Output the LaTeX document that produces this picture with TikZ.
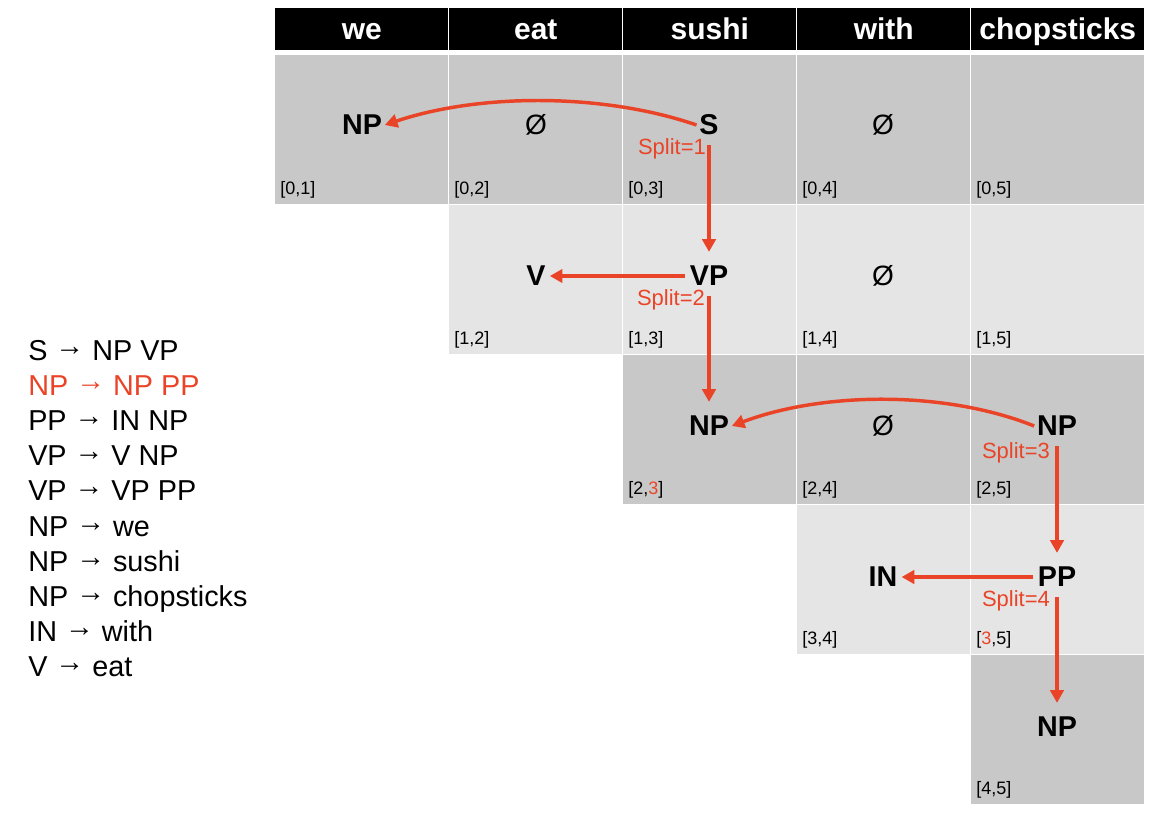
\documentclass[tikz,border=0pt]{standalone}
\usepackage{fontspec}
\setmainfont{Liberation Sans}
\usetikzlibrary{arrows.meta}
\definecolor{splitred}{RGB}{234,68,40}
\definecolor{celldark}{RGB}{200,200,200}
\definecolor{celllight}{RGB}{229,229,229}
% rule arrow, lifted to the middle of the capitals
\newcommand\ruleto{\raisebox{.17em}{\bfseries →}}
\tikzset{
  hdr/.style={fill=black, text=white, font=\bfseries\fontsize{22.5}{27}\selectfont,
    minimum width=129.75pt, minimum height=31.5pt, inner sep=0pt,
    text height=17pt, text depth=2pt, anchor=north west},
  cellbox/.style={minimum width=129.75pt, minimum height=111.75pt, inner sep=0pt,
    anchor=north west},
  sym/.style={font=\bfseries\fontsize{21.5}{26}\selectfont, inner sep=2pt},
  emptyset/.style={font=\fontsize{21}{26}\selectfont, inner sep=2pt},
  idx/.style={font=\fontsize{13.5}{16}\selectfont, inner sep=0pt, anchor=base west},
  splitlbl/.style={font=\fontsize{16.5}{19}\selectfont, text=splitred, inner sep=0pt},
  rule/.style={font=\fontsize{21.6}{26}\selectfont, inner sep=0pt, anchor=base west},
  back/.style={draw=splitred, line width=2.6pt, -{Triangle[length=9.5pt,width=10pt]}},
  down/.style={back, shorten <=5.5pt, shorten >=8.5pt},
  side/.style={back, shorten <=1.5pt, shorten >=1pt}
}
\begin{document}
\begin{tikzpicture}[x=0.75pt, y=-0.75pt]
\useasboundingbox (0,0) rectangle (1164,822);

% column headers
\foreach \w [count=\i from 0] in {we,eat,sushi,with,chopsticks}
  \node[hdr] (h\i) at ({275+174*\i},8) {\w};

% chart cells, rows alternating dark and light grey
\foreach \r in {0,...,4}{
  \foreach \c in {\r,...,4}{
    \ifodd\r \def\rowfill{celllight}\else \def\rowfill{celldark}\fi
    \node[cellbox, fill=\rowfill] (cell\r\c) at ({275+174*\c},{55+150*\r}) {};
    \pgfmathtruncatemacro\k{\c+1}
    \def\lbl{[\r,\k]}
    \ifnum\r\c=22 \def\lbl{[2,{\color{splitred}3}]}\fi
    \ifnum\r\c=34 \def\lbl{[{\color{splitred}3},5]}\fi
    \node[idx] (idx\r\c) at ({280+174*\c},{194.5+150*\r}) {\lbl};
  }
}

% cell contents
\node[sym] (np01) at (362,125) {NP};
\node[emptyset] (e02) at (536,125) {Ø};
\node[sym] (s03) at (709,125) {S};
\node[emptyset] (e04) at (883,125) {Ø};
\node[sym] (v12) at (536,276) {V};
\node[sym] (vp13) at (709,276) {VP};
\node[emptyset] (e14) at (883,276) {Ø};
\node[sym] (np23) at (709,426) {NP};
\node[emptyset] (e24) at (883,426) {Ø};
\node[sym] (np25) at (1057,426) {NP};
\node[sym] (in34) at (883,577) {IN};
\node[sym] (pp35) at (1057,577) {PP};
\node[sym] (np45) at (1057,727) {NP};

% split points
\node[splitlbl] (sp1) at (672,149) {Split=1};
\node[splitlbl] (sp2) at (671,300) {Split=2};
\node[splitlbl] (sp3) at (1016,453) {Split=3};
\node[splitlbl] (sp4) at (1016,601) {Split=4};

% back-pointers
\draw[back] (s03.west) .. controls +(-93,-32) and +(95,-32) .. (np01.east);
\draw[down] (s03.south) -- (vp13.north);
\draw[side] (vp13.west) -- (v12.east);
\draw[down] (vp13.south) -- (np23.north);
\draw[back] (np25.west) .. controls +(-90,-36) and +(90,-34) .. (np23.east);
\draw[down] (np25.south) -- (pp35.north);
\draw[side] (pp35.west) -- (in34.east);
\draw[down] (pp35.south) -- (np45.north);

% grammar rules
\node[rule] (g1) at (28,360) {S \ruleto{} NP VP};
\node[rule, text=splitred] (g2) at (28,395.2) {NP \ruleto{} NP PP};
\node[rule] (g3) at (28,430.4) {PP \ruleto{} IN NP};
\node[rule] (g4) at (28,465.6) {VP \ruleto{} V NP};
\node[rule] (g5) at (28,500.8) {VP \ruleto{} VP PP};
\node[rule] (g6) at (28,536) {NP \ruleto{} we};
\node[rule] (g7) at (28,571.2) {NP \ruleto{} sushi};
\node[rule] (g8) at (28,606.4) {NP \ruleto{} chopsticks};
\node[rule] (g9) at (28,641.6) {IN \ruleto{} with};
\node[rule] (g10) at (28,676.8) {V \ruleto{} eat};
\end{tikzpicture}
\end{document}
